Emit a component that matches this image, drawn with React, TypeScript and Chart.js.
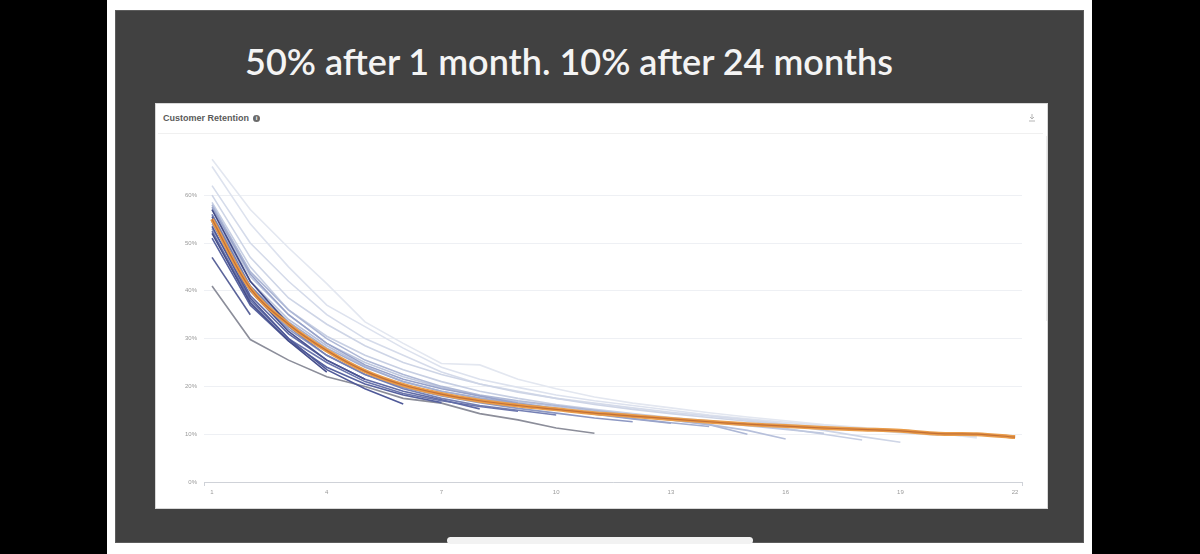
import React, { useEffect, useRef } from "react";
import { Chart, registerables } from "chart.js";

Chart.register(...registerables);

// ---- data ----
const MONTHS = [1, 2, 3, 4, 5, 6, 7, 8, 9, 10, 11, 12, 13, 14, 15, 16, 17, 18, 19, 20, 21, 22];
const X_TICKS = [1, 4, 7, 10, 13, 16, 19, 22];
const Y_TICKS = [0, 10, 20, 30, 40, 50, 60];

const AVERAGE = [55, 40.5, 33, 27.5, 23.2, 20.3, 18.4, 17, 16, 15.2, 14.4, 13.8, 13.2, 12.6, 12.1, 11.7, 11.3, 11, 10.7, 10.1, 10, 9.4];

const COHORT_01 = [67.5, 57, 49, 41.5, 33.5, 29, 24.8, 24.5, 21.5, 19.5, 17.8, 16.5, 15.5, 14.5, 13.6, 12.8, 12, 11.4, 10.8, 10.2, 9.2];
const COHORT_02 = [66, 54, 45, 37, 32.5, 28, 24, 21.5, 19.8, 18.2, 17, 16, 15, 14, 13.2, 12.5, 11.8, 11.2, 10.6, 10, 9.5];
const COHORT_03 = [62, 50, 42, 35, 30, 26.5, 23, 20.5, 19, 17.5, 16.5, 15.5, 14.6, 13.8, 13, 12.2, 11.5, 11, 10.3, 9.8];
const COHORT_04 = [60, 47, 38.5, 33, 28.5, 25, 22.5, 20.5, 18.8, 17.5, 16.2, 15.2, 14.3, 13.5, 12.7, 12, 10.8, 9.5, 8.3];
const COHORT_05 = [58.5, 45, 36, 30.5, 26.5, 23.5, 21, 19, 17.5, 16.2, 15.2, 14.3, 13.5, 12.8, 12, 11.2, 10, 8.8];
const COHORT_06 = [57, 43, 35, 29, 25, 22, 19.8, 18, 16.8, 15.8, 14.8, 14, 13.2, 12.5, 11.8, 11, 10.2];
const COHORT_07 = [56, 42, 34, 28.5, 24.2, 21, 19, 17.5, 16.3, 15.3, 14.5, 13.7, 13, 12, 10.8, 9];
const COHORT_08 = [58, 44, 36, 30, 25.5, 22.5, 20, 18.2, 17, 16, 15, 14, 13, 12, 10];
const COHORT_09 = [54, 41, 33.5, 28, 24, 21, 19, 17.6, 16.4, 15.4, 14.3, 13.3, 12.4, 11.6];
const COHORT_10 = [57.5, 43.5, 35, 29, 24.5, 21.5, 19.5, 18, 16.5, 15.3, 14.2, 13.2, 12.3];
const COHORT_11 = [53, 40, 32, 26.5, 22.5, 19.8, 18, 16.6, 15.4, 14.4, 13.4, 12.6];
const COHORT_12 = [41, 29.8, 25.5, 22, 20, 17.5, 16.5, 14.3, 13, 11.3, 10.2];
const COHORT_13 = [56, 41, 32.5, 26.5, 22.5, 19.5, 17.5, 16, 15, 14];
const COHORT_14 = [52.5, 38, 30, 25, 21, 18.5, 17, 15.8, 14.8];
const COHORT_15 = [54.5, 39, 31, 25.5, 21.5, 19, 17.2, 15.3];
const COHORT_16 = [51, 37, 29.5, 24, 20.5, 18.2, 16.6];
const COHORT_17 = [53.5, 38.5, 30, 23.5, 19.5, 16.3];
const COHORT_18 = [55.5, 40, 31.5, 25.5, 21.5];
const COHORT_19 = [52, 37.5, 29.5, 23];
const COHORT_20 = [57, 42, 33];
const COHORT_21 = [47, 35];

const COHORTS = [
  COHORT_01, COHORT_02, COHORT_03, COHORT_04, COHORT_05, COHORT_06, COHORT_07,
  COHORT_08, COHORT_09, COHORT_10, COHORT_11, COHORT_12, COHORT_13, COHORT_14,
  COHORT_15, COHORT_16, COHORT_17, COHORT_18, COHORT_19, COHORT_20, COHORT_21,
];

const COHORT_COLORS = [
  "#e3e7f0", "#dde2ee", "#d5dbea", "#ced5e6", "#c7cfe3", "#bfc8df", "#b7c0db",
  "#aeb8d6", "#a3aed0", "#98a3ca", "#8d98c3", "#8c8e9a", "#7580b4", "#6a75ad",
  "#606ba6", "#57629f", "#4f5998", "#4a5392", "#464f8c", "#434b87", "#5a6399",
];

function toPoints(values: number[]) {
  return values.map((v, i) => ({ x: MONTHS[i], y: v }));
}

function RetentionChart() {
  const ref = useRef<HTMLCanvasElement | null>(null);
  useEffect(() => {
    if (!ref.current) return;
    const cohortSets = COHORTS.map((vals, i) => ({
      label: "Cohort " + (i + 1),
      data: toPoints(vals),
      borderColor: COHORT_COLORS[i],
      borderWidth: 1.6,
      pointRadius: 0,
      tension: 0,
      fill: false,
      order: COHORTS.length - i,
    }));
    const chart = new Chart(ref.current, {
      type: "line",
      data: {
        datasets: [
          {
            label: "Average inner",
            data: toPoints(AVERAGE),
            borderColor: "rgba(178,92,45,0.7)",
            borderWidth: 1.2,
            pointRadius: 0,
            tension: 0.35,
            order: -3,
          },
          {
            label: "Average",
            data: toPoints(AVERAGE),
            borderColor: "#e99c4a",
            borderWidth: 4,
            pointRadius: 0,
            tension: 0.35,
            order: -2,
          },
          ...cohortSets,
        ],
      },
      options: {
        animation: false,
        responsive: false,
        devicePixelRatio: 1,
        layout: { padding: { left: 0, right: 27, top: 11.4, bottom: 0 } },
        plugins: { legend: { display: false }, tooltip: { enabled: false }, title: { display: false } },
        scales: {
          x: {
            type: "linear",
            min: 0.79,
            max: 22.18,
            afterBuildTicks: (axis: any) => {
              axis.ticks = [0.79, ...X_TICKS, 22.18].map((v) => ({ value: v }));
            },
            afterFit: (s: any) => {
              s.height = 26;
            },
            ticks: {
              autoSkip: false,
              maxRotation: 0,
              padding: 3,
              color: "#9a9a9a",
              font: { family: "Liberation Sans, Arial, sans-serif", size: 6 },
              callback: (v: any) => (X_TICKS.includes(Number(v)) ? String(v) : ""),
            },
            grid: {
              drawOnChartArea: false,
              tickLength: 4,
              color: (ctx: any) =>
                ctx.tick && (ctx.tick.value === 0.79 || ctx.tick.value === 22.18) ? "#cfd2d8" : "transparent",
            },
            border: { display: true, color: "#cfd2d8", width: 1 },
          },
          y: {
            min: 0,
            max: 70,
            afterBuildTicks: (axis: any) => {
              axis.ticks = Y_TICKS.map((v) => ({ value: v }));
            },
            afterFit: (s: any) => {
              s.width = 48;
            },
            ticks: {
              padding: 7,
              color: "#9a9a9a",
              font: { family: "Liberation Sans, Arial, sans-serif", size: 6 },
              callback: (v: any) => v + "%",
            },
            grid: { drawTicks: false, color: "#eef0f4" },
            border: { display: false },
          },
        },
      },
    } as any);
    return () => chart.destroy();
  }, []);
  return <canvas ref={ref} width={893} height={372} style={{ position: "absolute", left: 0, top: 32, display: "block" }} />;
}

export default function App() {
  return (
    <div style={{ position: "fixed", left: 0, top: 0, width: 1200, height: 554, background: "#000", overflow: "hidden" }}>
      <div style={{ position: "absolute", left: 107, top: 0, width: 985, height: 554, background: "#ffffff" }} />
      <div
        style={{
          position: "absolute",
          left: 115,
          top: 10,
          width: 969,
          height: 533,
          background: "#414141",
          boxSizing: "border-box",
          border: "1px solid #5c5c5c",
        }}
      />
      <div
        style={{
          position: "absolute",
          left: 115,
          top: 38,
          width: 908,
          textAlign: "center",
          color: "#f4f4f4",
          fontFamily: "Lato, 'Open Sans', sans-serif",
          fontWeight: 600,
          fontSize: 36,
          lineHeight: "46px",
          whiteSpace: "nowrap",
        }}
      >
        50% after 1 month. 10% after 24 months
      </div>
      {/* chart panel */}
      <div
        style={{
          position: "absolute",
          left: 155,
          top: 103,
          width: 893,
          height: 406,
          background: "#ffffff",
          boxSizing: "border-box",
          border: "1px solid #d8d8d8",
        }}
      >
        <div
          style={{
            position: "absolute",
            left: 7,
            top: 9,
            fontFamily: "'Liberation Sans', Arial, sans-serif",
            fontWeight: 700,
            fontSize: 9,
            color: "#5a5a5a",
            display: "flex",
            alignItems: "center",
            gap: 4,
            whiteSpace: "nowrap",
          }}
        >
          <span>Customer Retention</span>
          <span
            style={{
              display: "inline-block",
              width: 7,
              height: 7,
              borderRadius: 4,
              background: "#6a6a6a",
              color: "#fff",
              fontSize: 6,
              lineHeight: "7px",
              textAlign: "center",
            }}
          >
            i
          </span>
        </div>
        <svg style={{ position: "absolute", left: 872, top: 10 }} width={8} height={8} viewBox="0 0 8 8">
          <path d="M4 0 V5 M2 3 L4 5 L6 3 M1 7 H7" stroke="#b5b5b5" strokeWidth={1} fill="none" />
        </svg>
        <div style={{ position: "absolute", left: 2, top: 29, width: 885, height: 1, background: "#f0f0f0" }} />
        <div style={{ position: "absolute", left: 890, top: 32, width: 1, height: 185, background: "#ececec" }} />
        <RetentionChart />
      </div>
      <div style={{ position: "absolute", left: 447, top: 537, width: 306, height: 7, borderRadius: 4, background: "#f2f2f2" }} />
    </div>
  );
}
